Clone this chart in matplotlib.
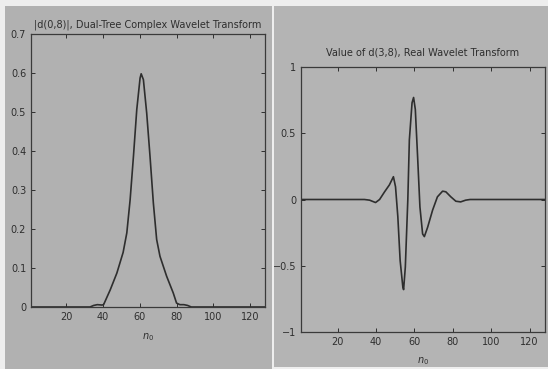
import numpy as np
import matplotlib.pyplot as plt
from matplotlib.patches import Rectangle

plt.rcParams['font.family'] = ['Liberation Sans Narrow', 'DejaVu Sans']

# |d(0,8)| of the dual-tree complex wavelet transform
n_cplx = [1, 33, 35, 37, 39.5, 40.4, 44, 47.6, 51, 53, 54.8, 56.6, 58.4, 60.2, 60.8,
          62, 63.8, 65.6, 67.4, 69.2, 71, 74.6, 78.2, 80, 81.8, 84, 86, 88, 128]
d_cplx = [0, 0, 0.004, 0.006, 0.005, 0.006, 0.044, 0.087, 0.14, 0.19, 0.275, 0.386,
          0.506, 0.587, 0.598, 0.583, 0.497, 0.386, 0.267, 0.173, 0.13, 0.079, 0.036,
          0.01, 0.006, 0.006, 0.004, 0, 0]

# d(3,8) of the real wavelet transform
n_real = [1, 34, 36.7, 39.8, 41.9, 44.5, 47, 49.1, 50.2, 51.4, 52.6, 54, 54.4, 55.3,
          56.6, 57.4, 58.8, 59.6, 60.5, 61.7, 62.9, 64.3, 65.2, 66.9, 69.5, 72, 74.7,
          76.4, 79, 81.6, 84.1, 86.7, 89, 128]
d_real = [0, 0, -0.005, -0.023, 0, 0.058, 0.11, 0.172, 0.096, -0.13, -0.46, -0.66,
          -0.68, -0.51, 0.0, 0.45, 0.73, 0.77, 0.68, 0.32, -0.056, -0.26, -0.28, -0.21,
          -0.08, 0.02, 0.063, 0.058, 0.02, -0.013, -0.018, -0.005, 0, 0]

bg = '#eeeeee'
panel_l = '#b1b1b1'
panel_r = '#b4b4b4'
ink = '#2e2e2e'

fig = plt.figure(figsize=(5.48, 3.69), dpi=100, facecolor=bg)
fig.patches.append(Rectangle((5/548, 0), 267/548, 363/369, transform=fig.transFigure,
                             facecolor=panel_l, edgecolor='none', zorder=-10))
fig.patches.append(Rectangle((274/548, 2/369), 274/548, 361/369, transform=fig.transFigure,
                             facecolor=panel_r, edgecolor='none', zorder=-10))

ax1 = fig.add_axes([31/548, 62/369, 234/548, 273/369], facecolor=panel_l)
ax2 = fig.add_axes([301/548, 37/369, 244/548, 265/369], facecolor=panel_r)

ax1.plot(n_cplx, d_cplx, color=ink, lw=1.2, solid_joinstyle='round')
ax1.set_xlim(1, 128)
ax1.set_ylim(0, 0.7)
ax1.set_xticks([20, 40, 60, 80, 100, 120])
ax1.set_yticks(np.arange(0, 0.71, 0.1))
ax1.set_yticklabels(['0', '0.1', '0.2', '0.3', '0.4', '0.5', '0.6', '0.7'])
ax1.set_title('|d(0,8)|, Dual-Tree Complex Wavelet Transform', fontsize=7, color=ink, pad=5)
ax1.set_xlabel('$n_0$', fontsize=7, color=ink, labelpad=7)

ax2.plot(n_real, d_real, color=ink, lw=1.2, solid_joinstyle='round')
ax2.set_xlim(1, 128)
ax2.set_ylim(-1, 1)
ax2.set_xticks([20, 40, 60, 80, 100, 120])
ax2.set_yticks([-1, -0.5, 0, 0.5, 1])
ax2.set_yticklabels(['\u22121', '\u22120.5', '0', '0.5', '1'])
ax2.set_title('Value of d(3,8), Real Wavelet Transform', fontsize=7, color=ink, pad=8.5)
ax2.set_xlabel('$n_0$', fontsize=7, color=ink, labelpad=6)

for ax in (ax1, ax2):
    ax.tick_params(direction='in', length=3, width=0.7, labelsize=7, colors=ink,
                   top=True, right=True)
    for s in ax.spines.values():
        s.set_color('#3a3a3a')
        s.set_linewidth(0.9)

plt.savefig('out.png', dpi=100, facecolor=bg)
